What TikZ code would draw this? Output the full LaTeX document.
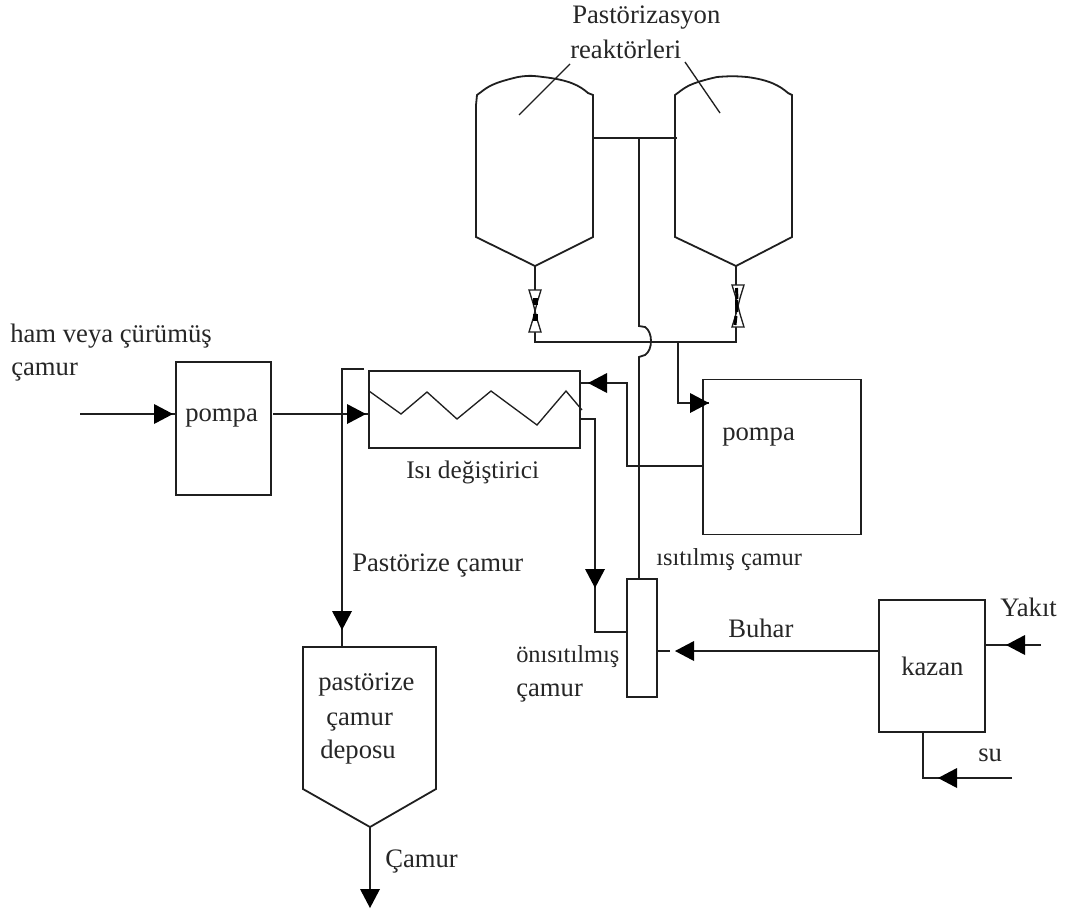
\documentclass[tikz,border=0pt]{standalone}
\usepackage{fontspec}
\setmainfont{Liberation Serif}
\begin{document}
\begin{tikzpicture}[x=0.75pt,y=-0.75pt,
  wire/.style={line width=1.35pt,draw=black!88,line join=miter},
  thin wire/.style={line width=1pt,draw=black!88},
  box/.style={draw=black!88,line width=1.35pt,inner sep=0pt},
  lbl/.style={anchor=base west,inner sep=0pt,font=\fontsize{20}{24}\selectfont,text=black!85},
  lblsmall/.style={lbl,font=\fontsize{18.3}{22}\selectfont},
  head/.pic={\fill[black] (0,0) -- (-19,-10) -- (-19,10) -- cycle;}]
\useasboundingbox (0,0) rectangle (1066,911);
\fill[white] (0,0) rectangle (1066,911);

% boxes
\node[box,minimum width=71.25pt,minimum height=99.75pt] (pumpA) at (223.5,428.5) {};
\node[box,minimum width=158.25pt,minimum height=57.75pt] (hex) at (474.5,409.5) {};
\node[box,minimum width=118.5pt,minimum height=116.25pt] (pumpB) at (782,457) {};
\node[box,minimum width=22.5pt,minimum height=88.5pt] (mixer) at (642,638) {};
\node[box,minimum width=79.5pt,minimum height=99pt] (boiler) at (932,666) {};

% reactors
\draw[wire] (476,237) -- (476,105) -- (477,95) .. controls (487,88) and (488,84) .. (518,77)
  .. controls (530,75) and (535,76) .. (543,77) .. controls (570,80) and (580,86) .. (588,93) -- (593,95)
  -- (593,237) -- (535,266) coordinate (apexA) -- cycle;
\draw[wire] (675,237) -- (675,95) .. controls (685,88) and (686,84) .. (717,77)
  .. controls (730,76) and (735,76) .. (747,77) .. controls (770,80) and (780,86) .. (788,93) -- (792,95)
  -- (792,237) -- (736,266) coordinate (apexB) -- cycle;
\coordinate (tapA) at (593,138);
\coordinate (tapB) at (677,138);
\coordinate (trunk) at (639,138);
\coordinate (joinA) at (535,342);
\coordinate (joinB) at (736,342);
\coordinate (feed) at (678,342);
\draw[wire] (tapA) -- (tapB);
\draw[wire] (apexA) -- (joinA) -- (joinB) -- (apexB);

% valves
\foreach \vx/\vy in {535/311,738/306}{
  \begin{scope}[shift={(\vx,\vy)}]
    \draw[thin wire,fill=white] (-6,-21) -- (6,-21) -- (2,-8) -- (0,0) -- (-2,-8) -- cycle;
    \draw[thin wire,fill=white] (-6,21) -- (6,21) -- (2,8) -- (0,0) -- (-2,8) -- cycle;
  \end{scope}}
\fill[black] (532.5,305) rectangle (537.5,298);
\fill[black] (532.5,321) rectangle (537.5,314);
\draw[line width=2.2pt] (736.5,288) -- (737,299);
\draw[line width=2.2pt] (736.5,300) -- (737,312);
\draw[line width=2.2pt] (736,316) -- (735,325);

% pointers
\coordinate (ptA1) at (519,115); \coordinate (ptA2) at (570,64);
\coordinate (ptB1) at (685,62); \coordinate (ptB2) at (720,113);
\draw[thin wire] (ptA1) -- (ptA2);
\draw[thin wire] (ptB1) -- (ptB2);

% trunk with jump to the mixer
\draw[wire] (trunk) -- (639,326) -- (645,327) .. controls (653,332) and (653,350) .. (645,355) -- (639,357)
  -- (trunk |- mixer.north);

% feed to pump B
\coordinate (pumpBin) at (709,403);
\draw[wire] (feed) -- (feed |- pumpBin) -- (pumpBin);
\pic at (pumpBin) {head};

% pump B to exchanger
\coordinate (backturn) at (627,466);
\coordinate (hexin) at (580,383);
\draw[wire] (pumpB.west |- backturn) -- (backturn) -- (backturn |- hexin) -- (hexin);
\pic[rotate=180] at (588,383) {head};

% exchanger coil
\draw[thin wire] (369,391) -- (401,414) -- (427,392) -- (457,419) -- (491,391) -- (537,425) -- (566,391) -- (582,410);

% inlet
\coordinate (rawin) at (80,414);
\coordinate (pumpAout) at (273,414);
\draw[wire] (rawin) -- (pumpA.west |- rawin);
\pic at (173,414) {head};
\draw[wire] (pumpAout) -- (hex.west |- pumpAout);
\pic at (366,414) {head};

% hot outlet to store
\coordinate (hotstart) at (364,369);
\coordinate (hotturn) at (342,369);
\coordinate (storeTop) at (342,647);
\draw[wire] (hotstart) -- (hotturn) -- (storeTop);
\pic[rotate=-90] at (342,630) {head};

% store tank
\draw[wire] (303,647) -- (436,647) -- (436,789) -- (370,827) coordinate (storeApex) -- (303,789) -- cycle;
\coordinate (storeOut) at (370,908);
\draw[wire] (storeApex) -- (370,892);
\pic[rotate=-90] at (storeOut) {head};

% preheated line
\coordinate (preA) at (580,419);
\coordinate (preB) at (595,419);
\coordinate (preC) at (595,632);
\draw[wire] (preA) -- (preB) -- (preC) -- (mixer.west |- preC);
\pic[rotate=-90] at (595,588) {head};

% steam
\coordinate (steam) at (694,651);
\coordinate (stub) at (670,651);
\draw[wire] (boiler.west |- steam) -- (steam);
\draw[wire] (mixer.east |- stub) -- (stub);
\pic[rotate=180] at (675,651) {head};

% fuel and water
\coordinate (fuel) at (1041,645);
\draw[wire] (fuel) -- (boiler.east |- fuel);
\pic[rotate=180] at (1006,645) {head};
\coordinate (waterIn) at (1012,778);
\coordinate (waterTurn) at (923,778);
\draw[wire] (waterIn) -- (waterTurn) -- (waterTurn |- boiler.south);
\pic[rotate=180] at (938,778) {head};

% labels
\node[lbl] (t1) at (572,23) {Pastörizasyon};
\node[lbl] (t2) at (570,58) {reaktörleri};
\node[lbl] (t3) at (10,342) {ham veya çürümüş};
\node[lbl] (t4) at (11,375) {çamur};
\node[lbl] (t5) at (185,421) {pompa};
\node[lbl,font=\fontsize{19}{23}\selectfont] (t6) at (406,478) {Isı değiştirici};
\node[lbl] (t7) at (352,571) {Pastörize çamur};
\node[lbl] (t8) at (722,440) {pompa};
\node[lblsmall] (t9) at (656,565) {ısıtılmış çamur};
\node[lblsmall] (t10) at (516,662) {önısıtılmış};
\node[lbl] (t11) at (516,696) {çamur};
\node[lbl] (t12) at (728,637) {Buhar};
\node[lbl] (t13) at (1000,616) {Yakıt};
\node[lbl] (t14) at (901,675) {kazan};
\node[lbl] (t15) at (978,761) {su};
\node[lbl] (t16) at (318,690) {pastörize};
\node[lbl] (t17) at (326,725) {çamur};
\node[lbl] (t18) at (320,758) {deposu};
\node[lbl] (t19) at (385,867) {Çamur};
\end{tikzpicture}
\end{document}
